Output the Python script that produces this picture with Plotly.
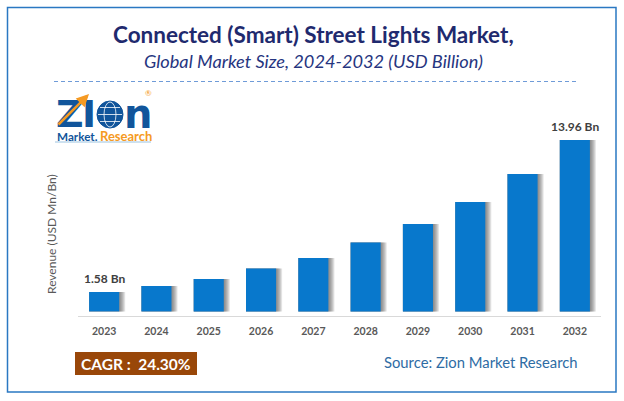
import plotly.graph_objects as go

W = 624
H = 401

years = ["2023", "2024", "2025", "2026", "2027", "2028", "2029", "2030", "2031", "2032"]
revenue = [1.58, 2.07, 2.64, 3.49, 4.35, 5.61, 7.12, 8.91, 11.19, 13.96]
bar_labels = {"2023": "1.58 Bn", "2032": "13.96 Bn"}

NAVY = "#1F2A6E"
LOGO_BLUE = "#11559B"
ORANGE = "#F59A23"
GREY = "#595959"
FONT = "Lato"


# pixel position in the picture -> paper coordinates
def px(x):
    return x / W


def py(y):
    return 1 - y / H


def label(x, y, text, size, color, bold=False, italic=False, angle=0, anchor="center", family=FONT, height=None):
    if bold:
        text = "<b>" + text + "</b>"
    if italic:
        text = "<i>" + text + "</i>"
    fig.add_annotation(x=px(x), y=py(y), xref="paper", yref="paper", text=text, showarrow=False,
                       textangle=angle, xanchor=anchor, yanchor="middle", height=height,
                       font=dict(family=family, size=size, color=color))


def box(x0, y0, x1, y1, **kw):
    fig.add_shape(type="rect", xref="paper", yref="paper", x0=px(x0), x1=px(x1), y0=py(y0), y1=py(y1), **kw)


def line(x0, y0, x1, y1, **kw):
    fig.add_shape(type="line", xref="paper", yref="paper", x0=px(x0), x1=px(x1), y0=py(y0), y1=py(y1), **kw)


fig = go.Figure()

bar_w = 0.575
px_unit = 1 / 52.3

# soft shadow to the right of the bars, stacked see-through layers
for k in [6, 5, 4, 3, 2, 1]:
    fig.add_trace(go.Bar(x=years, y=revenue, width=bar_w + k * px_unit, offset=-bar_w / 2,
                         marker=dict(color="rgba(70,70,70,0.14)", line=dict(width=0)),
                         hoverinfo="skip", showlegend=False))

fig.add_trace(go.Bar(x=years, y=revenue, width=bar_w, offset=-bar_w / 2,
                     marker=dict(color="#0878CC", line=dict(width=0)), showlegend=False))

fig.update_layout(
    width=W, height=H, barmode="overlay",
    margin=dict(l=0, r=0, t=0, b=0),
    paper_bgcolor="white", plot_bgcolor="white",
    font=dict(family=FONT),
    xaxis=dict(domain=[px(78), px(601)], type="category", range=[-0.5, 9.5], anchor="y",
               showgrid=False, showline=True, linecolor="#D9D9D9", linewidth=1, ticks="",
               ticklabelstandoff=5, tickfont=dict(family=FONT, size=10.5, color=GREY, weight="bold")),
    yaxis=dict(domain=[py(316), py(130)], range=[-0.375, 14.775], visible=False),
)

# frame, title block
box(7.5, 7.5, 616, 392, line=dict(color="#2A78C2", width=1.5), fillcolor="rgba(0,0,0,0)")
label(313.5, 34, "Connected (Smart) Street Lights Market,", 22.5, NAVY, bold=True)
label(313, 61, "Global Market Size, 2024-2032 (USD Billion)", 18.2, "#263580", italic=True)
line(54, 81.5, 577, 81.5, line=dict(color="#6F9BD8", width=1, dash="4px,3px"))

# value labels on first and last bar (category axis wants the index here, not the year string)
for yr, txt in bar_labels.items():
    i = years.index(yr)
    fig.add_annotation(x=i, y=revenue[i], xref="x", yref="y", text="<b>" + txt + "</b>",
                       showarrow=False, yshift=14, font=dict(family=FONT, size=12, color="#404040"))

label(52, 234, "Revenue (USD Mn/Bn)", 12, GREY, angle=-90)

# CAGR badge and source
box(75, 352, 197, 375, fillcolor="#994709", line=dict(width=0))
label(136, 364, "CAGR :  24.30%", 15.5, "white", bold=True)
label(481, 362, "Source: Zion Market Research", 14.8, "#2E6CA4")

# logo
label(70, 114, "Z", 38, LOGO_BLUE, bold=True, family="DejaVu Sans", height=30)
label(89, 114, "I", 38, LOGO_BLUE, bold=True, family="DejaVu Sans", height=30)
label(137.5, 114, "n", 40, LOGO_BLUE, bold=True, family="DejaVu Sans", height=30)
fig.add_shape(type="circle", xref="paper", yref="paper", x0=px(97), x1=px(123), y0=py(101), y1=py(128),
              fillcolor=LOGO_BLUE, line=dict(color=LOGO_BLUE, width=1))
fig.add_shape(type="circle", xref="paper", yref="paper", x0=px(104), x1=px(116), y0=py(102), y1=py(127),
              fillcolor="rgba(0,0,0,0)", line=dict(color="white", width=0.8))
line(98, 114.5, 122, 114.5, line=dict(color="white", width=0.8))
line(100, 107.5, 120, 107.5, line=dict(color="white", width=0.8))
line(100, 121.5, 120, 121.5, line=dict(color="white", width=0.8))
fig.add_annotation(x=px(89), y=py(94), ax=-32, ay=32, xref="paper", yref="paper",
                   text="", showarrow=True, arrowhead=2, arrowsize=1,
                   arrowwidth=2.5, arrowcolor=ORANGE)
label(148.5, 93, "®", 8, ORANGE)
label(54.5, 136.5, "Market.", 11.7, LOGO_BLUE, bold=True, anchor="left")
label(97.5, 136.5, "Research", 13, ORANGE, bold=True, anchor="left")
line(55, 142, 151, 142, line=dict(color="#9CC3E0", width=1))

fig.write_html("out.html", config=dict(displayModeBar=False), post_script="document.body.style.margin='0';")
